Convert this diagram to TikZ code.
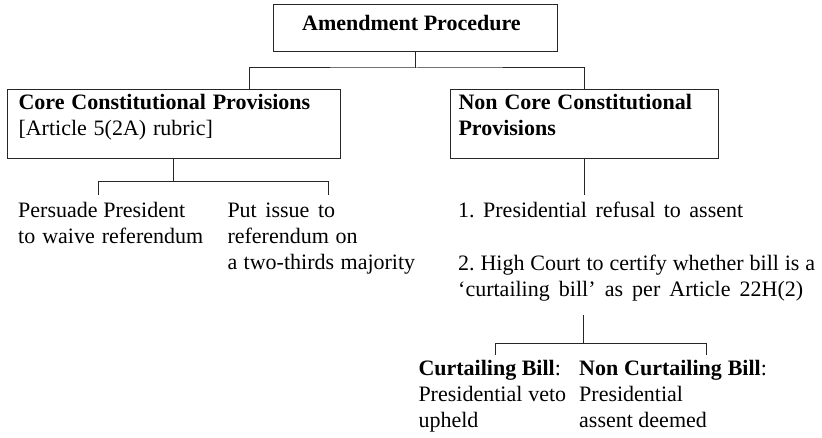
\documentclass[tikz,border=0pt]{standalone}
\usepackage{fontspec}
\setmainfont{Liberation Serif}
\usetikzlibrary{calc}
\frenchspacing
\newlength\fitw
\newcommand{\fitline}[2]{\settowidth{\fitw}{#2}\ifdim\fitw<#1pt\makebox[#1pt][s]{#2}\else #2\fi}
\begin{document}
\begin{tikzpicture}[x=1pt,y=-1pt,
  box/.style={draw=black!85,line width=1pt,rectangle,inner sep=0pt},
  txt/.style={inner sep=0pt,anchor=base west,align=left,font=\fontsize{22}{26}\selectfont},
  conn/.style={draw=black!85,line width=1pt}]
\useasboundingbox (0,0) rectangle (822,438);
% boxes
\node[box,minimum width=284pt,minimum height=47pt] (top) at (415,28.5) {};
\node[box,minimum width=332.7pt,minimum height=69pt] (core) at (173.7,123.8) {};
\node[box,minimum width=268.3pt,minimum height=69pt] (noncore) at (584.2,123.7) {};
% box texts (base anchor = last line)
\node[txt] (topt) at (302,30.7) {\fitline{218}{\textbf{Amendment Procedure}}};
\node[txt] (coret) at (18.3,135.3) {\fitline{291.7}{\textbf{Core Constitutional Provisions}}\\ \fitline{194.4}{[Article 5(2A) rubric]}};
\node[txt] (nct) at (458.3,135.3) {\fitline{233.4}{\textbf{Non Core Constitutional}}\\ \textbf{Provisions}};
% leaf texts
\node[txt] (l1) at (18,244) {\fitline{167}{Persuade President}\\ \fitline{185}{to waive referendum}};
\node[txt] (l2) at (227.3,270) {\fitline{107.7}{Put issue to}\\ \fitline{130}{referendum on}\\ \fitline{187.7}{a two-thirds majority}};
\node[txt] (r1) at (458,217.5) {\fitline{285}{1. Presidential refusal to assent}};
\node[txt] (r2) at (458,296.5) {\fitline{357}{2. High Court to certify whether bill is a}\\ \fitline{345}{‘curtailing bill’ as per Article 22H(2)}};
\node[txt] (b1) at (418.3,427.7) {\textbf{Curtailing Bill}:\\ \fitline{147.7}{Presidential veto}\\ upheld};
\node[txt] (b2) at (579,427.7) {\fitline{187.7}{\textbf{Non Curtailing Bill}:}\\ Presidential\\ \fitline{126}{assent deemed}};
% junctions and free ends
\coordinate (jA) at (416,68);
\coordinate (cIn) at ($(core.north west)+(242.7,0)$);
\coordinate (jB) at (173.3,181.7);
\coordinate (lA) at (98.3,195);
\coordinate (lB) at (328.3,195);
\coordinate (ncE) at (583.5,195);
\coordinate (cTop) at (583,315);
\coordinate (jC) at (583,343.3);
\coordinate (bA) at (495.7,355);
\coordinate (bB) at (706,355);
% connectors
\draw[conn] (top.south) -- (top.south |- jA);
\draw[conn] (cIn) |- (jA) -| (noncore.north);
\draw[conn] (core.south) -- (core.south |- jB);
\draw[conn] (lA) |- (jB) -| (lB);
\draw[conn] (noncore.south) -- (noncore.south |- ncE);
\draw[conn] (cTop) -- (jC);
\draw[conn] (bA) |- (jC) -| (bB);
\end{tikzpicture}
\end{document}
